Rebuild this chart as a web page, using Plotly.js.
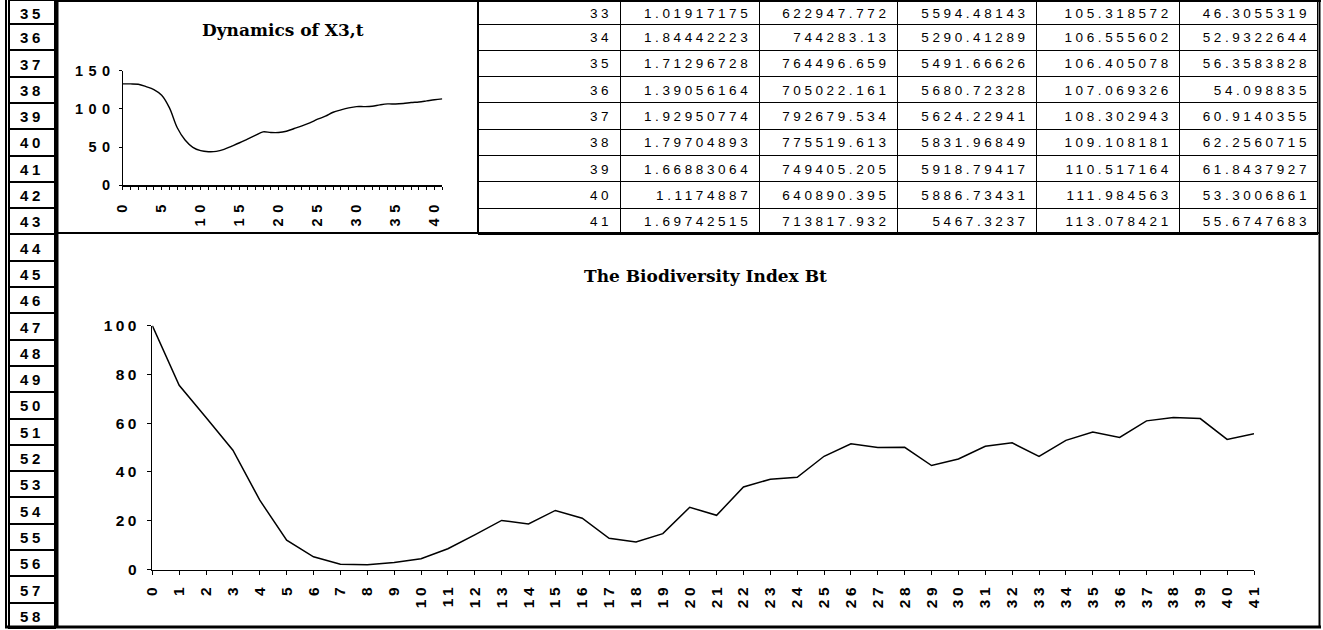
<!DOCTYPE html>
<html><head><meta charset="utf-8">
<script src="https://cdn.plot.ly/plotly-3.0.1.min.js"></script>
<style>
html,body{margin:0;padding:0;background:#fff;overflow:hidden;}
#chart{width:1323px;height:630px;}
.xtick text,.ytick text{letter-spacing:3.5px;}
.x2tick text,.y2tick text{letter-spacing:5.5px;}
.table .cell-text{letter-spacing:3.6px;}
</style></head><body><div id="chart"></div>
<script>
// ---- data ----
const periods = [0,1,2,3,4,5,6,7,8,9,10,11,12,13,14,15,16,17,18,19,20,21,22,23,24,25,26,27,28,29,30,31,32,33,34,35,36,37,38,39,40,41];
const x3 = [132.7,132.7,132.2,129.2,125.3,117.9,101.3,75.3,59.2,49.6,45.3,44.0,44.4,47.0,51.3,55.7,60.4,65.2,70.0,69.1,69.1,70.8,74.3,77.8,81.7,86.5,90.4,95.6,98.7,101.3,103.0,103.0,103.5,
  105.318572,106.555602,106.405078,107.069326,108.302943,109.108181,110.517164,111.984563,113.078421];
const bt = [100,75.5,62.3,48.9,28.4,12.0,5.2,2.2,1.9,2.9,4.4,8.5,14.2,20.1,18.7,24.2,21.0,12.8,11.3,14.7,25.5,22.2,33.8,37.0,37.8,46.4,51.5,50.0,50.1,42.6,45.3,50.5,51.9,
  46.3055319,52.9322644,56.3583828,54.098835,60.9140355,62.2560715,61.8437927,53.3006861,55.6747683];
const tableIdx = [33,34,35,36,37,38,39,40,41];
const colA = [1.01917175,1.84442223,1.71296728,1.39056164,1.92950774,1.79704893,1.66883064,1.1174887,1.69742515];
const colB = [622947.772,744283.13,764496.659,705022.161,792679.534,775519.613,749405.205,640890.395,713817.932];
const colC = [5594.48143,5290.41289,5491.66626,5680.72328,5624.22941,5831.96849,5918.79417,5886.73431,5467.3237];
const colX3 = x3.slice(33);
const colBt = bt.slice(33);
const sheetRows = [35,36,37,38,39,40,41,42,43,44,45,46,47,48,49,50,51,52,53,54,55,56,57,58];
const smallTitle = 'Dynamics of X3,t';
const bigTitle = 'The Biodiversity Index Bt';

// ---- geometry helpers ----
const W = 1323, H = 630;
const px = x => x / W;
const py = y => 1 - y / H;

const tickFont = {family: 'Liberation Sans, Arial, sans-serif', size: 15.5, color: '#000', weight: 'bold'};
const smallTickFont = {family: 'Liberation Sans, Arial, sans-serif', size: 14.5, color: '#000', weight: 'bold'};
const titleFont = {family: 'DejaVu Serif, serif', size: 17, color: '#000', weight: 'bold'};
const cellFont = {family: 'Liberation Sans, Arial, sans-serif', size: 13.5, color: '#000'};
const rowHeadFont = {family: 'Liberation Sans, Arial, sans-serif', size: 15, color: '#000', weight: 'bold'};

const tableCols = [tableIdx, colA, colB, colC, colX3, colBt];

const traces = [
  {type: 'scatter', mode: 'lines', x: periods, y: bt, xaxis: 'x', yaxis: 'y',
   line: {color: '#000', width: 1.5}, hoverinfo: 'skip'},
  {type: 'scatter', mode: 'lines', x: periods, y: x3, xaxis: 'x2', yaxis: 'y2',
   line: {color: '#000', width: 1.4, shape: 'spline', smoothing: 1}, hoverinfo: 'skip'},
  {type: 'table', domain: {x: [px(478), px(1318)], y: [py(235), 1]},
   columnwidth: [142, 139, 138, 139, 143, 138],
   header: {values: tableCols.map(c => String(c[0])), align: 'right', height: 24,
            fill: {color: '#fff'}, line: {color: '#000', width: 1}, font: cellFont},
   cells: {values: tableCols.map(c => c.slice(1).map(String)), align: 'right', height: 26.3,
           fill: {color: '#fff'}, line: {color: '#000', width: 1}, font: cellFont}},
  {type: 'table', domain: {x: [px(9), px(56)], y: [0.001, 1]},
   header: {values: [String(sheetRows[0])], align: 'center', height: 24,
            fill: {color: '#fff'}, line: {color: '#000', width: 2}, font: rowHeadFont},
   cells: {values: [sheetRows.slice(1).map(String)], align: 'center', height: 26.3,
           fill: {color: '#fff'}, line: {color: '#000', width: 2}, font: rowHeadFont}}
];

const axBase = {showgrid: false, zeroline: false, showline: true, linecolor: '#000', linewidth: 1.2,
  ticks: 'outside', ticklen: 4, tickcolor: '#000', tickwidth: 1, tickfont: tickFont, fixedrange: true};

const layout = {
  width: W, height: H, margin: {l: 0, r: 0, t: 0, b: 0},
  paper_bgcolor: '#fff', plot_bgcolor: 'rgba(0,0,0,0)', showlegend: false,
  xaxis: Object.assign({}, axBase, {domain: [px(152.3), px(1254)], range: [0, 41], anchor: 'y',
    tickmode: 'linear', tick0: 0, dtick: 1, tickangle: -90, ticklabelstandoff: 3}),
  yaxis: Object.assign({}, axBase, {domain: [py(569.5), py(325.5)], range: [0, 100], anchor: 'x',
    tickmode: 'linear', tick0: 0, dtick: 20, ticklabelstandoff: 4}),
  xaxis2: Object.assign({}, axBase, {domain: [px(122.7), px(442.3)], range: [0, 41], anchor: 'y2',
    tickmode: 'linear', tick0: 0, dtick: 5, tickangle: -90, ticklen: 3, ticklabelstandoff: 4,
    tickfont: smallTickFont,
    minor: {dtick: 1, ticks: 'outside', ticklen: 3, tickcolor: '#000'}}),
  yaxis2: Object.assign({}, axBase, {domain: [py(185.3), py(70.7)], range: [0, 150], anchor: 'x2',
    tickmode: 'linear', tick0: 0, dtick: 50, ticklen: 3, ticklabelstandoff: 0, tickfont: smallTickFont}),
  annotations: [
    {xref: 'paper', yref: 'paper', x: px(283), y: py(30), text: smallTitle, showarrow: false,
     xanchor: 'center', yanchor: 'middle', font: titleFont},
    {xref: 'paper', yref: 'paper', x: px(705), y: py(276), text: bigTitle, showarrow: false,
     xanchor: 'center', yanchor: 'middle', font: titleFont}
  ],
  shapes: [
    {type: 'line', xref: 'paper', yref: 'paper', x0: px(6), x1: px(6), y0: py(0), y1: py(628), line: {color: '#000', width: 2}},
    {type: 'line', xref: 'paper', yref: 'paper', x0: px(57), x1: px(57), y0: py(0), y1: py(628), line: {color: '#000', width: 3}},
    {type: 'line', xref: 'paper', yref: 'paper', x0: px(57), x1: px(1321), y0: py(1), y1: py(1), line: {color: '#000', width: 2}},
    {type: 'line', xref: 'paper', yref: 'paper', x0: px(478), x1: px(478), y0: py(0), y1: py(233), line: {color: '#000', width: 2}},
    {type: 'line', xref: 'paper', yref: 'paper', x0: px(57), x1: px(1320), y0: py(233), y1: py(233), line: {color: '#000', width: 2}},
    {type: 'line', xref: 'paper', yref: 'paper', x0: px(1319.5), x1: px(1319.5), y0: py(0), y1: py(628), line: {color: '#000', width: 2}},
    {type: 'line', xref: 'paper', yref: 'paper', x0: px(5), x1: px(1321), y0: py(627), y1: py(627), line: {color: '#000', width: 3}}
  ]
};

Plotly.newPlot('chart', traces, layout, {staticPlot: true, displayModeBar: false});
</script>
</body></html>
